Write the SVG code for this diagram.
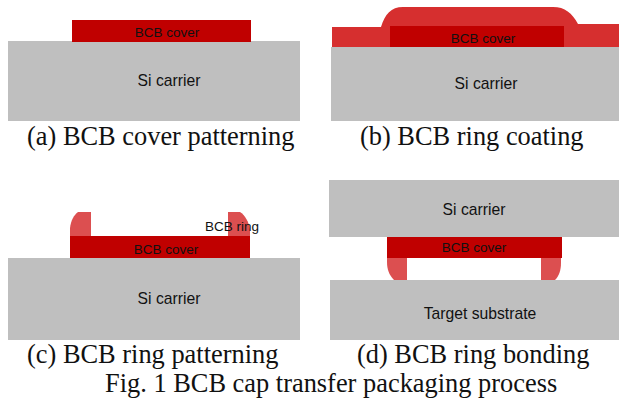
<svg xmlns="http://www.w3.org/2000/svg" width="619" height="402" viewBox="0 0 619 402">
<style>
.si{fill:#bfbfbf}
.cover{fill:#c00000}
.ring{fill:#d62f2f}
.ring2{fill:#dc4f50}
text{font-family:"Liberation Sans",Arial,sans-serif;fill:#111;text-anchor:middle}
.sm{font-size:13.5px}
.lg{font-size:15.7px}
.cap{font-family:"Liberation Serif","Times New Roman",serif;font-size:26.4px;text-anchor:start}
</style>
<rect width="619" height="402" fill="#fff"/>
<g id="panel-a">
<rect class="si" x="8" y="41" width="292" height="80"/>
<rect class="cover" x="72" y="20" width="179" height="22"/>
<text class="sm" x="167" y="37">BCB cover</text>
<text class="lg" x="169" y="86">Si carrier</text>
</g>
<g id="panel-b">
<path class="ring" d="M332 27L381 27C385 14 391 7 403 7L553 7C565 7 572 13 578 24L619 24L619 47L332 47Z"/>
<rect class="si" x="331" y="47" width="288" height="74"/>
<rect class="cover" x="390" y="26" width="174" height="21"/>
<text class="sm" x="483" y="43">BCB cover</text>
<text class="lg" x="486" y="89">Si carrier</text>
</g>
<g id="panel-c">
<rect class="si" x="8" y="258" width="292" height="82"/>
<path class="ring2" d="M70 236L70 228C71 220 74 215 78 212L91 212L91 236Z"/>
<path class="ring2" d="M228 212L240 212C245 215 249 222 250 230L250 236L228 236Z"/>
<rect class="cover" x="70" y="236" width="180" height="22"/>
<text class="sm" x="166" y="254">BCB cover</text>
<text class="lg" x="169" y="304">Si carrier</text>
<text class="sm" x="232" y="231">BCB ring</text>
</g>
<g id="panel-d">
<rect class="si" x="329" y="180" width="290" height="57"/>
<path class="ring2" d="M387 258L407 258L407 280L394 280C389 275 387 269 387 262Z"/>
<path class="ring2" d="M541 258L561 258L561 263C561 270 559 276 555 280L541 280Z"/>
<rect class="cover" x="387" y="237" width="175" height="21"/>
<rect class="si" x="330" y="280" width="289" height="60"/>
<text class="sm" x="474" y="252">BCB cover</text>
<text class="lg" x="474" y="215">Si carrier</text>
<text class="lg" x="480" y="319">Target substrate</text>
</g>
<g id="captions">
<text class="cap" x="27" y="145">(a) BCB cover patterning</text>
<text class="cap" x="360" y="145">(b) BCB ring coating</text>
<text class="cap" x="27" y="363">(c) BCB ring patterning</text>
<text class="cap" x="357" y="363">(d) BCB ring bonding</text>
<text class="cap" x="105" y="392">Fig. 1 BCB cap transfer packaging process</text>
</g>
</svg>
